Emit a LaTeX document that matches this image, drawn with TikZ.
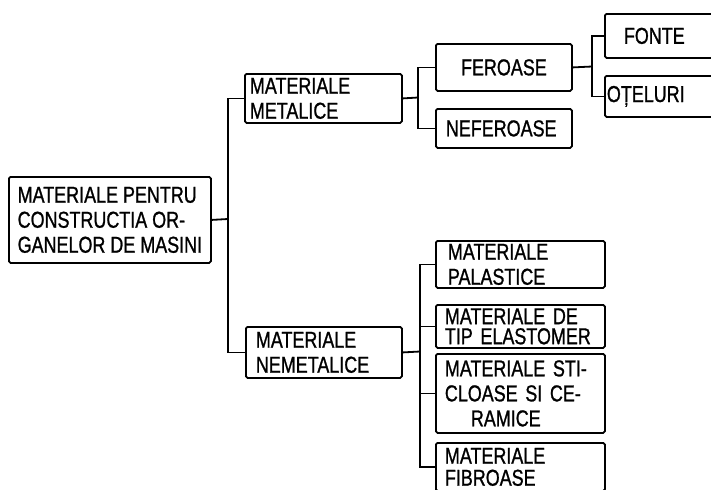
\documentclass[tikz,border=0pt]{standalone}
\usepackage{fontspec}
\newfontfamily\lettering{Liberation Sans}[FakeStretch=0.78, FakeBold=1]
\usepackage{tikz}
\usetikzlibrary{positioning}

\begin{document}
\begin{tikzpicture}[x=0.5pt, y=-0.5pt,
  box/.style={draw, line width=0.9pt, rounded corners=0.8pt, anchor=north west,
    inner ysep=0pt, align=left, font=\lettering\fontsize{11.5}{12.5}\selectfont},
  link/.style={line width=0.9pt}]
  \useasboundingbox (0,0) rectangle (711,489);
  \clip (0,0) rectangle (711,489);

  % root
  \node[box, minimum width=101pt, minimum height=43pt, inner xsep=3.5pt]
    (root) at (8,176) {MATERIALE PENTRU\\CONSTRUCTIA OR-\\GANELOR DE MASINI};

  % second level
  \node[box, minimum width=78.5pt, minimum height=24.5pt, inner xsep=2.5pt, text width=73.5pt]
    (metalice) at (244,73) {MATERIALE\\METALICE};
  \node[box, minimum width=78pt, minimum height=25.5pt, inner xsep=5pt, text width=68pt]
    (nemetalice) at (245,326) {MATERIALE\\NEMETALICE};

  % metalice branch
  \node[box, minimum width=68pt, minimum height=23.5pt, align=center, inner xsep=0pt]
    (feroase) at (435,43) {FEROASE};
  \node[box, minimum width=68pt, minimum height=19.5pt, inner xsep=5pt, text width=58pt]
    (neferoase) at (435,108) {NEFEROASE};
  \node[box, minimum width=70pt, minimum height=22pt, inner xsep=9.5pt, text width=51pt]
    (fonte) at (604,13) {FONTE};
  \node[box, minimum width=70pt, minimum height=20.5pt, inner xsep=1pt, text width=68pt]
    (oteluri) at (604,75) {OȚELURI};

  % nemetalice branch
  \node[box, minimum width=84.5pt, minimum height=23.5pt, inner xsep=6pt, text width=72.5pt]
    (palastice) at (435,240) {MATERIALE\\PALASTICE};
  \node[box, minimum width=84.5pt, minimum height=21.5pt, inner xsep=4.5pt, text width=75.5pt,
    font=\lettering\fontsize{11.5}{10}\selectfont]
    (elastomer) at (435,304) {MATERIALE DE\\TIP ELASTOMER};
  \node[box, minimum width=84.5pt, minimum height=39.5pt, inner xsep=4.5pt, text width=75.5pt]
    (sticloase) at (435,353) {MATERIALE STI-\\CLOASE SI CE-\\\hspace*{13pt}RAMICE};
  \node[box, minimum width=84.5pt, minimum height=24pt, inner xsep=4.5pt, text width=75.5pt,
    font=\lettering\fontsize{11.5}{11}\selectfont]
    (fibroase) at (435,442) {MATERIALE\\FIBROASE};

  % connectors
  \coordinate (j1) at (228,219);
  \coordinate (j2) at (418,97.5);
  \coordinate (j3) at (592,66.5);
  \coordinate (j4) at (420,351.5);
  \draw[link] (root.east) -- (j1);
  \draw[link] (metalice.west) -| (j1) |- (nemetalice.west);
  \draw[link] (metalice.east) -- (j2);
  \draw[link] (feroase.west) -| (j2) |- (neferoase.west);
  \draw[link] (feroase.east) -- (j3);
  \draw[link] (fonte.west) -| (j3) |- (oteluri.west);
  \draw[link] (nemetalice.east) -- (j4);
  \draw[link] (palastice.west) -| (j4) |- (fibroase.west);
  \draw[link] (elastomer.west) -| (j4);
  \draw[link] (sticloase.west) -| (j4);
\end{tikzpicture}
\end{document}
